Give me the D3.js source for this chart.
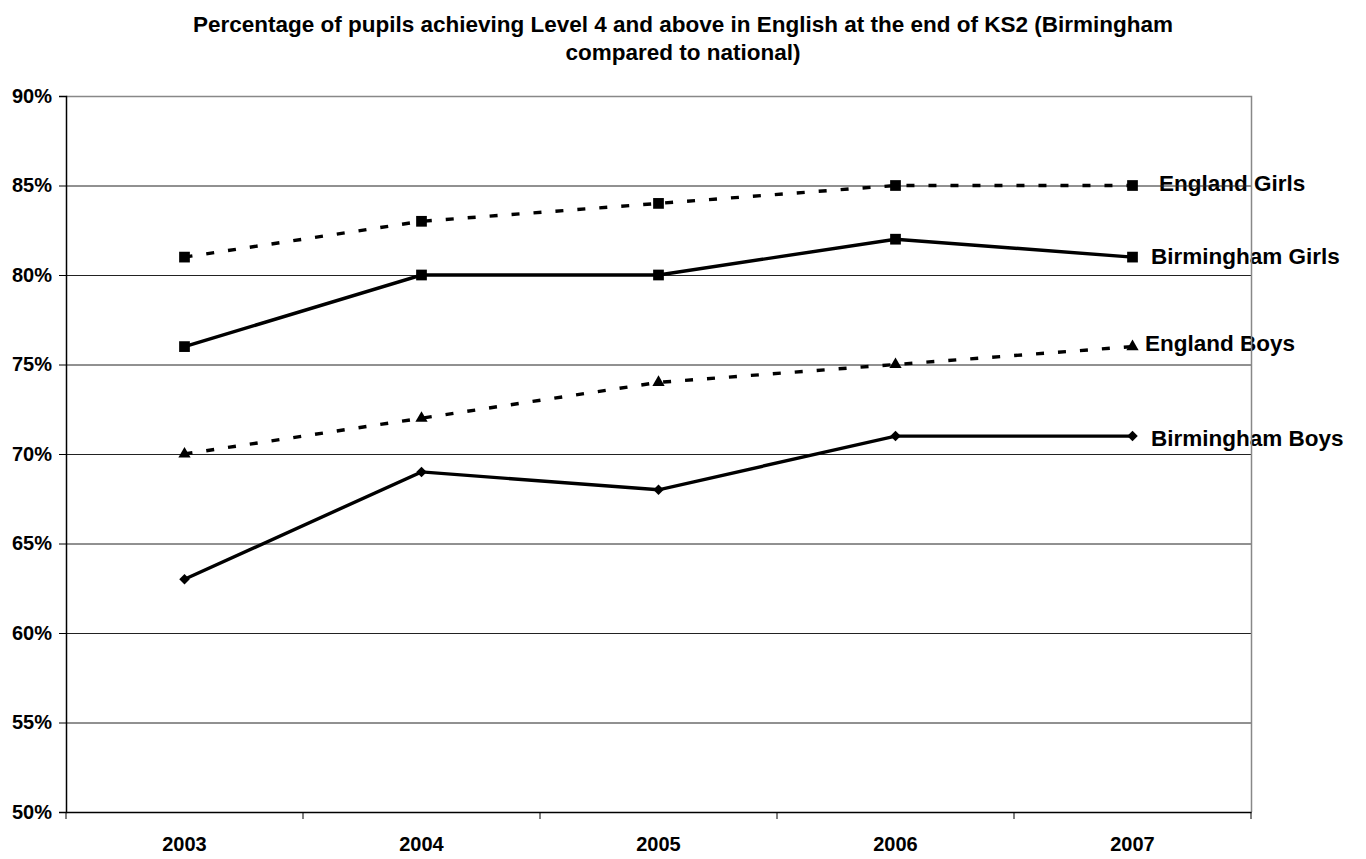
<!DOCTYPE html>
<html><head><meta charset="utf-8">
<script src="https://cdn.jsdelivr.net/npm/d3@7"></script>
<style>body{margin:0;background:#fff}svg{display:block;font-family:"Liberation Sans",Arial,sans-serif}</style>
</head><body>
<svg id="c" width="1366" height="859"></svg>
<script>
const years = ["2003","2004","2005","2006","2007"];
const englandGirls = [81,83,84,85,85];
const birminghamGirls = [76,80,80,82,81];
const englandBoys = [70,72,74,75,76];
const birminghamBoys = [63,69,68,71,71];
const yTicks = [50,55,60,65,70,75,80,85,90];
const seriesNames = ["England Girls","Birmingham Girls","England Boys","Birmingham Boys"];

const series = [
  {name:seriesNames[0], values:englandGirls, dash:"8,14", symbol:d3.symbolSquare, size:115, rot:0, lx:1159, dy:-2},
  {name:seriesNames[1], values:birminghamGirls, dash:null, symbol:d3.symbolSquare, size:115, rot:0, lx:1151, dy:-1},
  {name:seriesNames[2], values:englandBoys, dash:"8,14", symbol:d3.symbolTriangle, size:65, rot:0, lx:1145, dy:-3},
  {name:seriesNames[3], values:birminghamBoys, dash:null, symbol:d3.symbolSquare, size:55, rot:45, lx:1151, dy:2}
];

const svg = d3.select("#c");
const L=66, R=1251, T=96, B=812;
const x = d3.scaleBand().domain(years).range([L,R]);
const y = d3.scaleLinear().domain([50,90]).range([B,T]);

// title
const title = svg.append("text").attr("text-anchor","middle")
  .attr("font-weight","bold").attr("font-size",22.5);
title.append("tspan").attr("x",683).attr("y",32).text("Percentage of pupils achieving Level 4 and above in English at the end of KS2 (Birmingham");
title.append("tspan").attr("x",683).attr("y",60).text("compared to national)");

// labels
series.forEach(s=>{
  const v = s.values[s.values.length-1];
  svg.append("text").attr("x",s.lx).attr("y",y(v)+s.dy).attr("dy","0.35em")
    .attr("font-weight","bold").attr("font-size",22.5).text(s.name);
});

// gridlines
svg.append("g").selectAll("line").data(yTicks.filter(t=>t>50&&t<90)).join("line")
  .attr("x1",L).attr("x2",R).attr("y1",d=>y(d)+0.5).attr("y2",d=>y(d)+0.5)
  .attr("stroke","#222").attr("stroke-width",1);

// plot border (top/right grey)
svg.append("path").attr("d",`M${L},${T+0.5}H${R+0.5}V${B}`).attr("fill","none").attr("stroke","#888").attr("stroke-width",1.5);

// y axis
const yAxis = d3.axisLeft(y).tickValues(yTicks).tickSize(7).tickFormat(d=>d+"%");
const gy = svg.append("g").attr("transform",`translate(${L},0)`).call(yAxis);
gy.select(".domain").attr("stroke","#000").attr("stroke-width",1.5);
gy.selectAll(".tick line").attr("stroke","#000");
gy.selectAll(".tick text").attr("font-weight","bold").attr("font-size",20).attr("font-family","'Liberation Sans',Arial,sans-serif").attr("fill","#000").attr("x",-14);

// x axis
const xAxis = d3.axisBottom(x).tickSize(0);
const gx = svg.append("g").attr("transform",`translate(0,${B})`).call(xAxis);
gx.select(".domain").attr("stroke","#000").attr("stroke-width",1.5);
gx.selectAll(".tick text").attr("font-weight","bold").attr("font-size",20).attr("font-family","'Liberation Sans',Arial,sans-serif").attr("fill","#000").attr("y",25);
const bounds = years.map(d=>x(d)).concat([x(years[years.length-1])+x.bandwidth()]);
svg.append("g").selectAll("line").data(bounds).join("line")
  .attr("x1",d=>d).attr("x2",d=>d).attr("y1",B).attr("y2",B+7).attr("stroke","#000");

// lines and markers
const line = d3.line().x((d,i)=>x(years[i])+x.bandwidth()/2).y(d=>y(d));
series.forEach(s=>{
  svg.append("path").datum(s.values).attr("d",line).attr("fill","none")
    .attr("stroke","#000").attr("stroke-width",3.4).attr("stroke-dasharray",s.dash);
  svg.append("g").selectAll("path").data(s.values).join("path")
    .attr("transform",(d,i)=>`translate(${x(years[i])+x.bandwidth()/2},${y(d)}) rotate(${s.rot})`)
    .attr("d",d3.symbol().type(s.symbol).size(s.size)).attr("fill","#000");
});
</script>
</body></html>
